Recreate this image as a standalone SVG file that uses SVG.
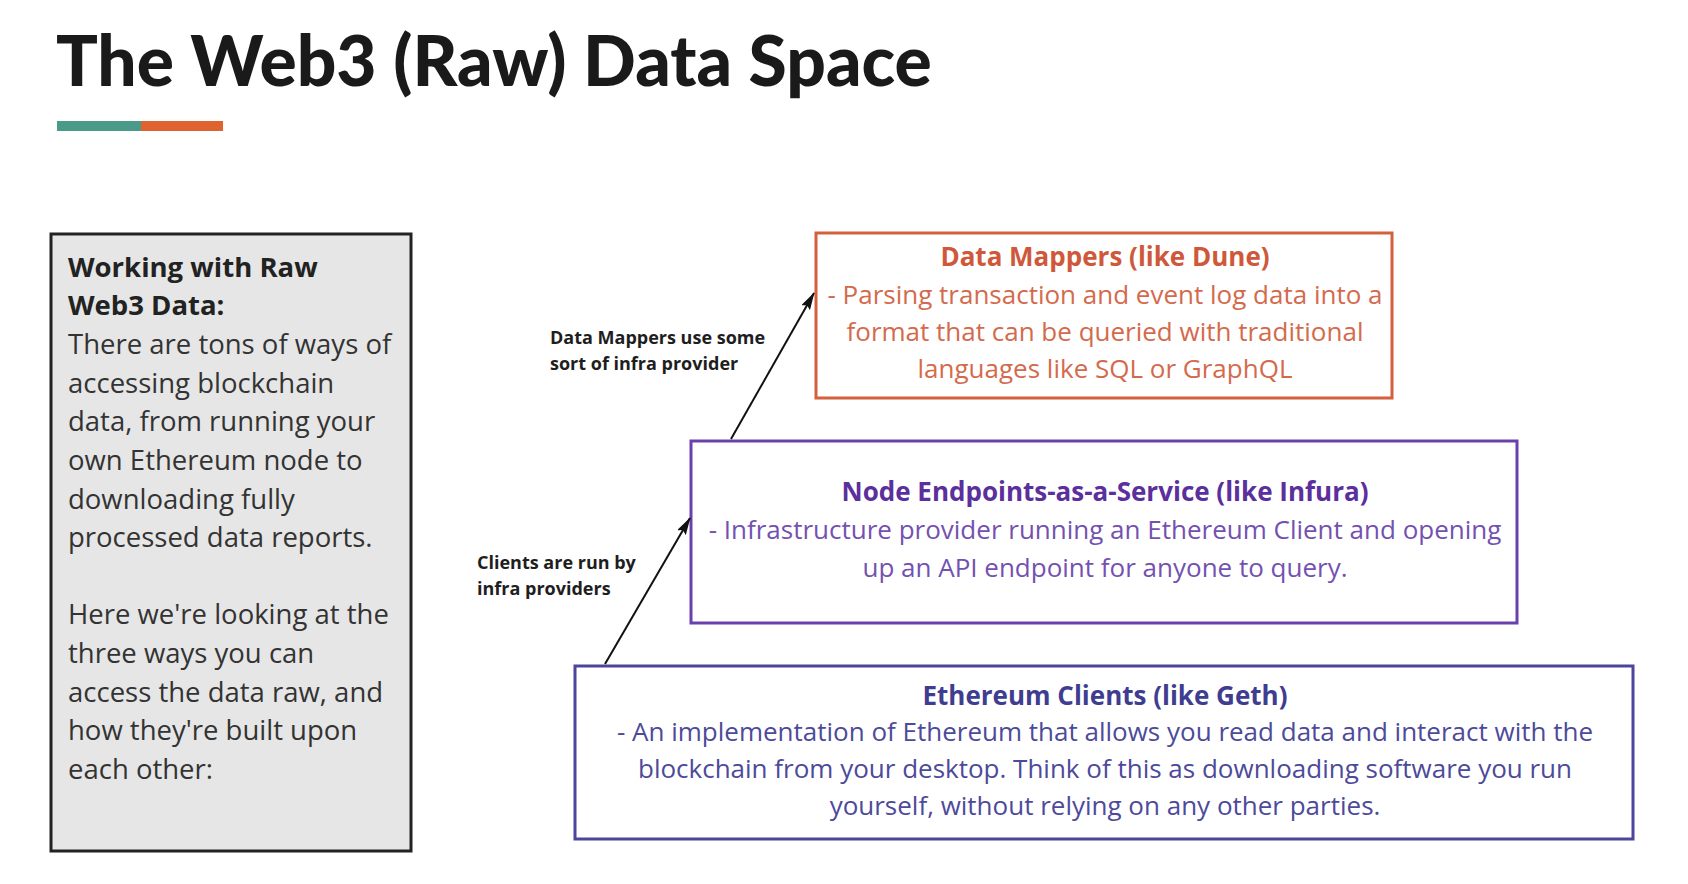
<svg xmlns="http://www.w3.org/2000/svg" width="1688" height="884" viewBox="0 0 1688 884">
<defs>
<style>
.os{font-family:"Open Sans","DejaVu Sans",sans-serif}
.side{font-size:27.5px;fill:#333333}
.lbl{font-size:18px;font-weight:700;fill:#1e1e1e}
.bt{font-size:26px;font-weight:700;text-anchor:middle}
.bd{font-size:26px;text-anchor:middle}
.conn{stroke:#111111;stroke-width:2;fill:none;marker-end:url(#ah)}
</style>
<marker id="ah" viewBox="0 0 18 10" refX="17" refY="5" markerWidth="18" markerHeight="10" orient="auto" markerUnits="userSpaceOnUse">
<path d="M0,0 L18,5 L0,10 L3,5 z" fill="#111111"/>
</marker>
</defs>
<rect width="1688" height="884" fill="#ffffff"/>
<g id="title">
<text x="56" y="86" font-family="Lato,'Open Sans',sans-serif" font-weight="900" font-size="69.5" fill="#1a1a1a">The Web3 (Raw) Data Space</text>
<rect x="57" y="121" width="84" height="10" fill="#4a9a8a"/>
<rect x="141" y="121" width="82" height="10" fill="#de632e"/>
</g>
<g id="side-note">
<rect x="51" y="234" width="360" height="617" fill="#e6e6e6" stroke="#222222" stroke-width="3"/>
<text class="os side" x="68"><tspan x="68" y="277" font-weight="700" fill="#222">Working with Raw</tspan><tspan x="68" y="315" font-weight="700" fill="#222">Web3 Data:</tspan><tspan x="68" y="354">There are tons of ways of</tspan><tspan x="68" y="393">accessing blockchain</tspan><tspan x="68" y="431">data, from running your</tspan><tspan x="68" y="470">own Ethereum node to</tspan><tspan x="68" y="509">downloading fully</tspan><tspan x="68" y="547">processed data reports.</tspan><tspan x="68" y="624">Here we're looking at the</tspan><tspan x="68" y="663">three ways you can</tspan><tspan x="68" y="702">access the data raw, and</tspan><tspan x="68" y="740">how they're built upon</tspan><tspan x="68" y="779">each other:</tspan></text>
</g>
<g id="data-mappers">
<rect x="816" y="233" width="576" height="165" fill="#ffffff" stroke="#d4603f" stroke-width="3"/>
<text class="os bt" x="1105" y="266" fill="#d0583a">Data Mappers (like Dune)</text>
<text class="os bd" fill="#d46a4c"><tspan x="1105" y="304">- Parsing transaction and event log data into a</tspan><tspan x="1105" y="341">format that can be queried with traditional</tspan><tspan x="1105" y="378">languages like SQL or GraphQL</tspan></text>
</g>
<g id="node-endpoints">
<rect x="691" y="441" width="826" height="182" fill="#ffffff" stroke="#6a40ad" stroke-width="3"/>
<text class="os bt" x="1105" y="501" fill="#5b2f9c">Node Endpoints-as-a-Service (like Infura)</text>
<text class="os bd" fill="#7451b0"><tspan x="1105" y="539">- Infrastructure provider running an Ethereum Client and opening</tspan><tspan x="1105" y="577">up an API endpoint for anyone to query.</tspan></text>
</g>
<g id="ethereum-clients">
<rect x="575" y="666" width="1058" height="173" fill="#ffffff" stroke="#4b469a" stroke-width="3"/>
<text class="os bt" x="1105" y="705" fill="#3f3d8f">Ethereum Clients (like Geth)</text>
<text class="os bd" fill="#4d4a9a"><tspan x="1105" y="741">- An implementation of Ethereum that allows you read data and interact with the</tspan><tspan x="1105" y="778">blockchain from your desktop. Think of this as downloading software you run</tspan><tspan x="1105" y="815">yourself, without relying on any other parties.</tspan></text>
</g>
<g id="connectors">
<line class="conn" x1="731" y1="439" x2="814" y2="293"/>
<line class="conn" x1="605" y1="664" x2="690" y2="518"/>
</g>
<g id="labels">
<text class="os lbl"><tspan x="550" y="344">Data Mappers use some</tspan><tspan x="550" y="370">sort of infra provider</tspan></text>
<text class="os lbl"><tspan x="477" y="569">Clients are run by</tspan><tspan x="477" y="595">infra providers</tspan></text>
</g>
</svg>
